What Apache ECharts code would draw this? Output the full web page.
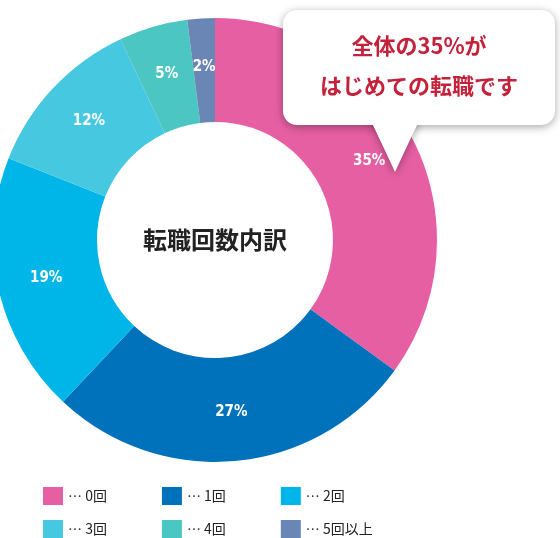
<!DOCTYPE html>
<html><head><meta charset="utf-8">
<script src="https://cdn.jsdelivr.net/npm/echarts@6/dist/echarts.min.js"></script>
<style>html,body{margin:0;padding:0;background:#fff}#c{width:560px;height:538px}</style>
</head><body><div id="c"></div>
<script>
const categories = ['… 0回','… 1回','… 2回','… 3回','… 4回','… 5回以上'];
const values = [35, 27, 19, 12, 5, 2];
const colors = ['#e65fa2','#0071bb','#00b6e8','#45c8e0','#4cc6c3','#6a86b5'];
const centerTitle = '転職回数内訳';
const calloutLines = ['全体の35%が','はじめての転職です'];

const chart = echarts.init(document.getElementById('c'));
chart.setOption({
  animation:false,
  color: colors,
  legend:[
    {data:categories.slice(0,3), left:38, top:482, itemWidth:20, itemHeight:18, itemGap:55, icon:'rect',
     textStyle:{fontSize:14,color:'#222',fontFamily:'Noto Sans CJK JP'}},
    {data:categories.slice(3), left:38, top:515, itemWidth:20, itemGap:55, itemHeight:18, icon:'rect',
     textStyle:{fontSize:14,color:'#222',fontFamily:'Noto Sans CJK JP'}}
  ],
  series:[{
    type:'pie', center:[215,240], radius:[118,222], startAngle:90, clockwise:true,
    label:{position:'inside', formatter:'{c}%', color:'#fff', fontWeight:'bold', fontSize:15, fontFamily:'"DejaVu Sans Condensed", "DejaVu Sans"'},
    labelLine:{show:false},
    data: categories.map((n,i)=>({name:n, value:values[i]}))
  }],
  graphic:[
    {type:'text', z:100, style:{x:215,y:240,text:centerTitle,align:'center',verticalAlign:'middle',
      font:'bold 24px "Noto Sans CJK JP"', fill:'#222'}},
    {type:'group', z:100, children:[
      {type:'polygon', z:100, shape:{points:[[370,118],[420,118],[395,172]]}, style:{fill:'#fff', shadowBlur:8, shadowColor:'rgba(0,0,0,0.35)', shadowOffsetY:2}},
      {type:'rect', z:101, shape:{x:283,y:10,width:272,height:115,r:14}, style:{fill:'#fff', shadowBlur:8, shadowColor:'rgba(0,0,0,0.35)', shadowOffsetY:2}},
      {type:'polygon', z:102, shape:{points:[[368,115],[422,115],[395,170]]}, style:{fill:'#fff'}},
      {type:'text', z:103, style:{x:419,y:46,text:calloutLines[0],align:'center',verticalAlign:'middle',font:'bold 22px "Noto Sans CJK JP"',fill:'#c4213b'}},
      {type:'text', z:103, style:{x:419,y:86,text:calloutLines[1],align:'center',verticalAlign:'middle',font:'bold 22px "Noto Sans CJK JP"',fill:'#c4213b'}}
    ]}
  ]
});
</script></body></html>
